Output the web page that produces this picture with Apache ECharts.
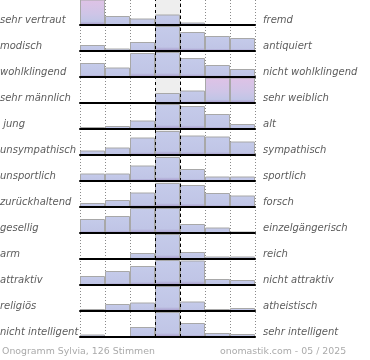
<!DOCTYPE html>
<html><head><meta charset="utf-8">
<script src="https://cdn.jsdelivr.net/npm/echarts@6/dist/echarts.min.js"></script>
<style>html,body{margin:0;padding:0;background:#fff}#c{width:370px;height:360px}</style>
</head><body><div id="c"></div>
<script>
const leftLabels = ['sehr vertraut','modisch','wohlklingend','sehr männlich',' jung','unsympathisch','unsportlich','zurückhaltend','gesellig','arm','attraktiv','religiös','nicht intelligent'];
const rightLabels = ['fremd','antiquiert','nicht wohlklingend','sehr weiblich','alt','sympathisch','sportlich','forsch','einzelgängerisch','reich','nicht attraktiv','atheistisch','sehr intelligent'];
const steps = ['1','2','3','4','5','6','7'];
const vertraut = [34, 9, 6.5, 10.5, 2.5, 1, 1];
const modisch = [6, 2.5, 9, 25, 19, 15, 13];
const wohlklingend = [14, 9.5, 24, 25, 19, 12, 8];
const maennlich = [0, 0, 0, 10, 12.5, 31, 31];
const jung = [2, 3, 8.5, 25, 23, 15, 5];
const sympathisch = [4.5, 7.5, 17.5, 24, 19.5, 18.5, 13.5];
const sportlich = [7.5, 7.5, 15.5, 24, 12, 4.5, 4.5];
const forsch = [4, 7, 14.5, 24, 22, 14, 11.5];
const gesellig = [14, 17, 25, 25, 9, 5.5, 1.5];
const reich = [0, 0, 6, 25, 7, 2.5, 2.5];
const attraktiv = [9, 14, 19, 25, 24.5, 6, 5];
const religioes = [2, 7, 8.5, 25, 9.5, 2, 3];
const intelligent = [2.5, 1, 10, 25, 14, 4, 3];
const rows = [vertraut, modisch, wohlklingend, maennlich, jung, sympathisch, sportlich, forsch, gesellig, reich, attraktiv, religioes, intelligent];
const footerLeft = 'Onogramm Sylvia, 126 Stimmen';
const footerRight = 'onomastik.com - 05 / 2025';

const CAP = 25, TOP0 = 25, PITCH = 26, LEFT = 80, WIDTH = 175;
const grad = (stops) => new echarts.graphic.LinearGradient(0,0,0,1, stops.map(s=>({offset:s[0],color:s[1]})));
const blue = grad([[0,'#c5cbea'],[0.84,'#c0c5e6'],[1,'#a596c7']]);
const pink = grad([[0,'#dfc2e6'],[0.55,'#cfc5e7'],[0.86,'#c1c5e6'],[1,'#a596c7']]);

const grids = [], xAxes = [], yAxes = [], series = [], graphics = [];
const font = 'italic 10px "DejaVu Sans"';
rows.forEach((vals, i) => {
  const base = TOP0 + i * PITCH;
  grids.push({left: LEFT, width: WIDTH, top: base - CAP, height: CAP});
  xAxes.push({type:'category', gridIndex:i, data: steps, show:true, z:5,
    axisLine:{show:true, lineStyle:{color:'#000', width:2}}, axisTick:{show:false}, axisLabel:{show:false}, splitLine:{show:false}});
  yAxes.push({type:'value', gridIndex:i, min:0, max:CAP, show:false});
  series.push({type:'bar', xAxisIndex:i, yAxisIndex:i, barCategoryGap:'0%', clip:true, z:2, silent:true,
    data: vals.map(v => ({value:v, itemStyle:{color: v > 28 ? pink : blue}})),
    itemStyle:{borderColor:'#a8a8a8', borderWidth:1}});
  graphics.push({type:'text', x:0, y: base - 5, silent:true, style:{text:leftLabels[i], font, fill:'#5c5c5c', verticalAlign:'middle'}});
  graphics.push({type:'text', x:263, y: base - 5, silent:true, style:{text:rightLabels[i], font, fill:'#5c5c5c', verticalAlign:'middle'}});
});
const n = rows.length;
const lastBase = TOP0 + (n - 1) * PITCH;
grids.push({left: LEFT, width: WIDTH, top: 0, height: lastBase});
xAxes.push({type:'value', gridIndex:n, min:0, max:7, interval:1, axisLine:{show:false}, axisTick:{show:false}, axisLabel:{show:false},
  splitLine:{show:true, lineStyle:{color:'#8a8a8a', type:[1,2], width:1}}});
yAxes.push({type:'value', gridIndex:n, min:0, max:1, show:false});
series.push({type:'line', xAxisIndex:n, yAxisIndex:n, data:[], z:1, silent:true,
  markArea:{silent:true, itemStyle:{color:'#eeeeee'}, data:[[{xAxis:3},{xAxis:4}]]}});
series.push({type:'line', xAxisIndex:n, yAxisIndex:n, data:[], z:10, silent:true,
  markLine:{silent:true, symbol:'none', label:{show:false}, lineStyle:{color:'#000', type:[3,3], width:1}, data:[{xAxis:3},{xAxis:4}]}});
graphics.push({type:'text', x:2, y:352, silent:true, style:{text:footerLeft, font:'9.4px "DejaVu Sans"', fill:'#aaaaaa', verticalAlign:'middle'}});
graphics.push({type:'text', x:220, y:352, silent:true, style:{text:footerRight, font:'9.4px "DejaVu Sans"', fill:'#aaaaaa', verticalAlign:'middle'}});

const chart = echarts.init(document.getElementById('c'), null, {renderer:'canvas'});
chart.setOption({animation:false, grid:grids, xAxis:xAxes, yAxis:yAxes, series, graphic:graphics});
</script></body></html>
